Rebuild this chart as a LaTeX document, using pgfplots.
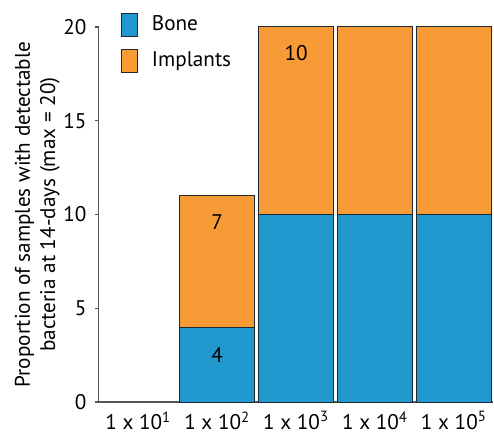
\documentclass[border=0pt]{standalone}
\usepackage{fontspec}
\setmainfont{PT Sans}
\usepackage{pgfplots}
\pgfplotsset{compat=1.18}
\definecolor{boneblue}{HTML}{2199CF}
\definecolor{implorange}{HTML}{F79B37}
\definecolor{edgec}{HTML}{1E2A33}
\definecolor{axc}{HTML}{555555}
\newcommand{\chartfont}{\fontsize{10.6}{12.6}\selectfont}
\begin{document}
\chartfont
\begin{tikzpicture}
\begin{axis}[
  at={(0pt,0pt)}, anchor=south west,
  scale only axis,
  width=197.5pt, height=187.75pt,
  ybar stacked,
  bar width=0.95,
  xmin=-0.5, xmax=4.5,
  ymin=0, ymax=20,
  xtick={0,1,2,3,4},
  xticklabels={1 x 10\textsuperscript{1},1 x 10\textsuperscript{2},1 x 10\textsuperscript{3},1 x 10\textsuperscript{4},1 x 10\textsuperscript{5}},
  ytick={0,5,10,15,20},
  axis x line*=bottom, axis y line*=left,
  axis line style={axc, line width=0.6pt},
  x axis line style={-}, y axis line style={-},
  major x tick style={draw=none},
  major y tick style={axc, line width=0.6pt},
  tick align=outside,
  major tick length=2pt,
  /pgf/number format/assume math mode=true,
  tick label style={font=\chartfont, text=black},
  xticklabel style={yshift=1pt},
  yticklabel style={xshift=-0.5pt},
  ylabel={Proportion of samples with detectable\\bacteria at 14-days (max = 20)},
  ylabel style={align=center, font=\chartfont, yshift=-5.5pt},
  legend style={draw=none, fill=none, at={(0.055,1.042)}, anchor=north west,
    font=\chartfont, row sep=5pt, inner sep=0pt,
    /tikz/every even column/.append style={column sep=0pt},
    /tikz/every odd column/.append style={column sep=5pt}},
  legend cell align=left,
  legend image code/.code={\draw[#1, draw=edgec, line width=0.5pt] (0pt,-5.75pt) rectangle (8pt,5.75pt);},
  clip=false,
]
\addplot[fill=boneblue, draw=edgec, line width=0.5pt] coordinates {(1,4) (2,10) (3,10) (4,10)};
\addplot[fill=implorange, draw=edgec, line width=0.5pt] coordinates {(1,7) (2,10) (3,10) (4,10)};
\legend{Bone, Implants}
\coordinate (l4) at (axis cs:1,2.5);
\coordinate (l7) at (axis cs:1,9.6);
\coordinate (l10) at (axis cs:2,18.6);
\end{axis}
\node at (l4) {4};
\node at (l7) {7};
\node at (l10) {10};
\path[use as bounding box] (-49.5pt,-12.25pt) rectangle (197.5pt,201.25pt);
\end{tikzpicture}
\end{document}
